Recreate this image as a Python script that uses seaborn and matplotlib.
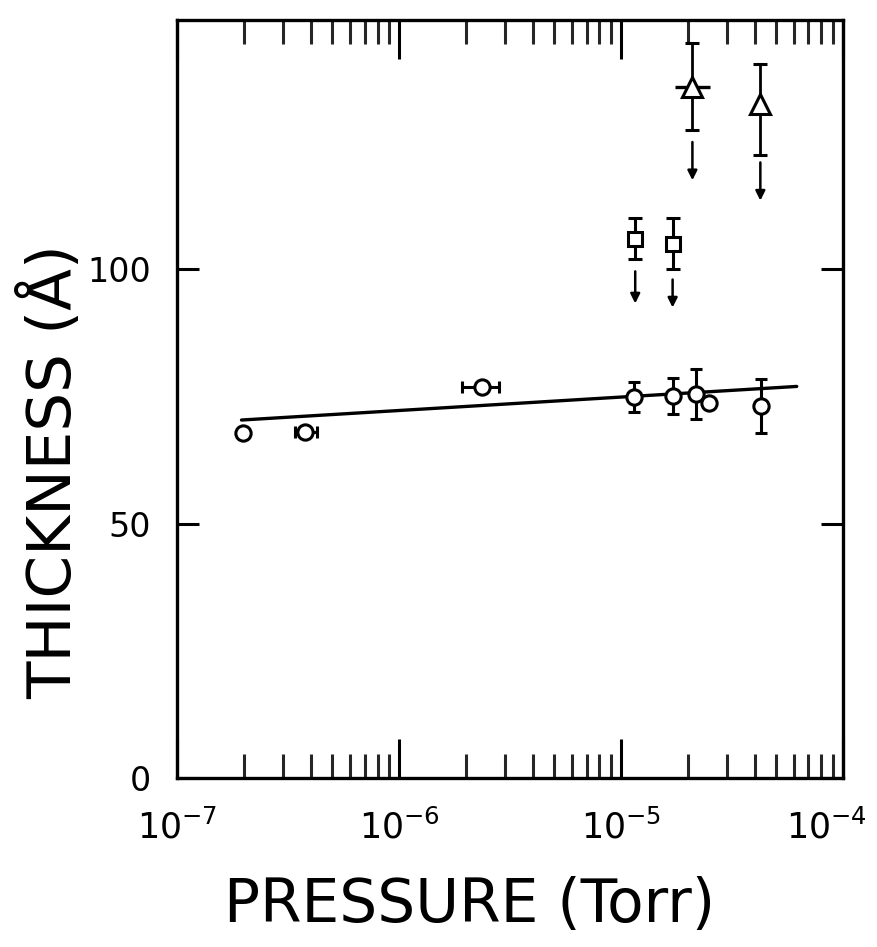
import seaborn as sns
import pandas as pd
import matplotlib.pyplot as plt
import matplotlib.ticker as mticker
import matplotlib.transforms as mtrans
import numpy as np

# Data
# circles (measured thickness)
circ_p = [1.98e-7, 3.75e-7, 2.36e-6, 1.15e-5, 1.71e-5, 2.19e-5, 2.5e-5, 4.3e-5]
circ_t = [67.8, 68.0, 76.9, 74.9, 75.1, 75.5, 73.7, 73.1]
circ_terr = [0, 0, 0, 2.9, 3.5, 4.9, 0, 5.3]
circ_plo = [1.98e-7, 3.38e-7, 1.92e-6, 1.15e-5, 1.71e-5, 2.19e-5, 2.5e-5, 4.3e-5]
circ_phi = [1.98e-7, 4.29e-7, 2.81e-6, 1.15e-5, 1.71e-5, 2.19e-5, 2.5e-5, 4.3e-5]

# squares (upper limits)
sq_p = [1.16e-5, 1.71e-5]
sq_t = [106.0, 105.0]
sq_terr = [4.0, 5.0]
sq_arrow_from = [99.6, 98.0]
sq_arrow_to = [93.3, 92.5]

# triangles (upper limits)
tri_p = [2.1e-5, 4.25e-5]
tri_t = [135.9, 132.4]
tri_terr_lo = [8.5, 10.0]
tri_terr_hi = [8.5, 8.0]
tri_plo = [1.75e-5, 4.25e-5]
tri_phi = [2.51e-5, 4.25e-5]
tri_arrow_from = [125.0, 121.0]
tri_arrow_to = [117.5, 113.5]

# fitted line
fit_p = [1.95e-7, 6.2e-5]
fit_t = [70.4, 77.0]

sns.set_style('white')
plt.rcParams['font.family'] = ['DejaVu Sans']
plt.rcParams['mathtext.fontset'] = 'dejavusans'
plt.rcParams['text.color'] = 'black'
plt.rcParams['axes.labelcolor'] = 'black'

fig = plt.figure(figsize=(8.77, 9.47), dpi=100)
ax = fig.add_axes([0.202, 0.178, 0.759, 0.801])

fit_df = pd.DataFrame({'p': fit_p, 't': fit_t})
sns.lineplot(data=fit_df, x='p', y='t', ax=ax, color='black', lw=2.4, zorder=1)

k = 'black'
circ_p_arr = np.array(circ_p)
xerr_c = [circ_p_arr - np.array(circ_plo), np.array(circ_phi) - circ_p_arr]
ax.errorbar(circ_p, circ_t, yerr=circ_terr, xerr=xerr_c, fmt='o', ms=11,
            mfc='white', mec=k, mew=2.2, ecolor=k, elinewidth=2.2,
            capsize=4, capthick=2.2, zorder=3)

ax.errorbar(sq_p, sq_t, yerr=sq_terr, fmt='s', ms=10,
            mfc='white', mec=k, mew=2.2, ecolor=k, elinewidth=2.2,
            capsize=5, capthick=2.2, zorder=3)

# triangles: horizontal bars without caps, vertical bars with caps
tri_p_arr = np.array(tri_p)
xerr_t = [tri_p_arr - np.array(tri_plo), np.array(tri_phi) - tri_p_arr]
ax.errorbar(tri_p, tri_t, xerr=xerr_t, fmt='none', ecolor=k,
            elinewidth=2.4, capsize=0, zorder=2)
ax.errorbar(tri_p, tri_t, yerr=[tri_terr_lo, tri_terr_hi], fmt='^',
            ms=15, mfc='white', mec=k, mew=2.2, ecolor=k, elinewidth=2.0,
            capsize=5, capthick=2.2, zorder=3)

for px, a0, a1 in zip(sq_p + tri_p, sq_arrow_from + tri_arrow_from,
                      sq_arrow_to + tri_arrow_to):
    ax.annotate('', xy=(px, a1), xytext=(px, a0),
                arrowprops=dict(arrowstyle='-|>', color=k, lw=1.8,
                                mutation_scale=14, shrinkA=0, shrinkB=0))

ax.set_xscale('log')
ax.set_xlim(1e-7, 1e-4)
ax.set_ylim(0, 149)

ax.xaxis.set_major_locator(mticker.FixedLocator([1e-7, 1e-6, 1e-5, 1e-4]))
ax.xaxis.set_minor_locator(mticker.LogLocator(base=10, subs=np.arange(2, 10), numticks=10))
ax.xaxis.set_major_formatter(mticker.FuncFormatter(
    lambda v, pos: r'$10^{%d}$' % int(round(np.log10(v)))))
ax.xaxis.set_minor_formatter(mticker.NullFormatter())
ax.set_yticks([0, 50, 100])

for s in ax.spines.values():
    s.set_linewidth(2.4)
    s.set_color(k)

ax.tick_params(axis='x', which='major', direction='in', length=28, width=2.2,
               top=True, bottom=True, labelsize=25, pad=22, colors=k)
ax.tick_params(axis='x', which='minor', direction='in', length=17, width=2.2,
               top=True, bottom=True)
ax.tick_params(axis='y', which='major', direction='in', length=16, width=2.2,
               left=True, right=True, labelsize=24, pad=19, colors=k)

# keep the 10^-4 label inside the figure
last = ax.xaxis.get_major_ticks()[-1].label1
last.set_transform(last.get_transform() +
                   mtrans.ScaledTranslation(-12 / 72, 0, fig.dpi_scale_trans))

ax.set_xlabel('PRESSURE (Torr)', fontsize=43, color=k)
ax.set_ylabel('THICKNESS (Å)', fontsize=44, color=k)
ax.xaxis.set_label_coords(0.44, -0.129)
ax.yaxis.set_label_coords(-0.14, 0.404)

fig.savefig('out.png', dpi=100)
